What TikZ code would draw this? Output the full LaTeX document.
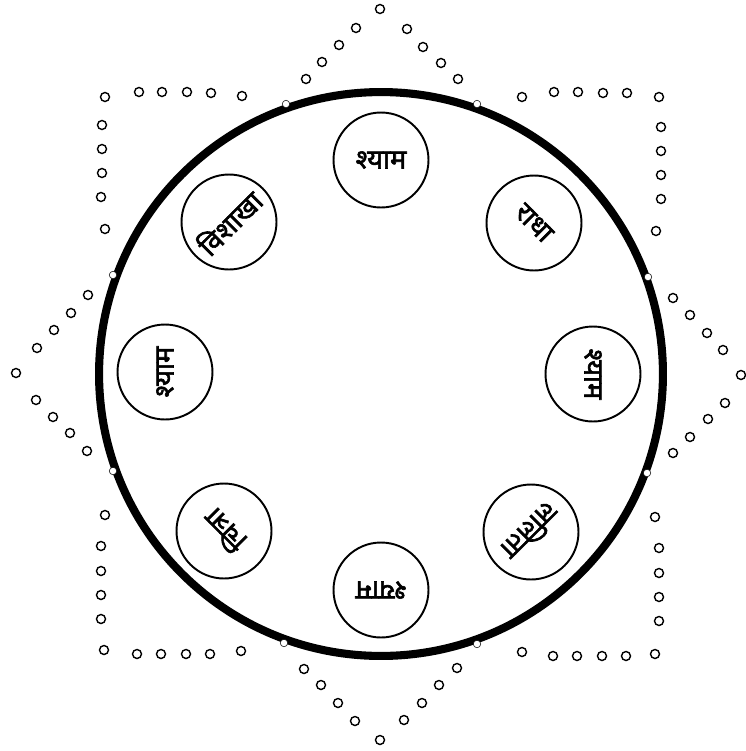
\documentclass[tikz,border=0pt]{standalone}
\usepackage{fontspec}
\usepackage{tikz}
\newfontfamily\devfont[Script=Devanagari,AutoFakeBold=2.2]{Noto Sans}
\definecolor{InkBlack}{HTML}{000000}
\tikzset{
  sakhi/.style={circle,draw=InkBlack,line width=1.1pt,minimum size=1.9cm,inner sep=0pt,
    font=\devfont\bfseries\fontsize{15.5}{17}\selectfont},
  ring/.style={draw=InkBlack,line width=0.8pt,fill=white},
  joint/.style={draw=InkBlack,line width=0.3pt,fill=white}
}

\begin{document}
\begin{tikzpicture}[x=0.02cm,y=-0.02cm]
  \useasboundingbox (0,0) rectangle (745,751);

  % Rasa circle
  \coordinate (mid) at (381,374);
  \draw[InkBlack,line width=4.6pt] (mid) circle[radius=5.64cm];

  % Joints on the rim
  \foreach \p in {(286,104),(477,104),(113,275),(648,277),
                  (113,471),(647,473),(284,643),(477,644)} {
    \draw[joint] \p circle[radius=0.075cm];
  }

  % Dotted star outline
  \foreach \p in {(380,9),(356,28),(339,45),(322,62),(306,79),
                  (407,29),(423,47),(441,63),(458,79),
                  (105,97),(139,92),(162,92),(187,92),(211,93),(242,96),
                  (102,125),(102,149),(102,173),(101,197),(105,229),
                  (88,295),(71,313),(54,330),(37,348),(16,373),
                  (36,400),(53,417),(70,433),(87,451),
                  (105,515),(101,546),(101,571),(101,595),(101,619),(104,650),
                  (137,654),(161,654),(186,654),(210,654),(241,651),
                  (304,669),(321,685),(338,703),(355,721),(380,740),
                  (457,668),(439,685),(422,703),(404,720),
                  (522,97),(554,92),(578,92),(603,93),(627,93),(659,97),
                  (661,127),(661,151),(661,175),(661,199),(656,231),
                  (673,298),(690,315),(707,333),(723,350),(741,375),
                  (725,403),(708,419),(690,437),(673,453),
                  (655,517),(659,548),(659,573),(659,597),(659,621),(655,654),
                  (626,656),(602,656),(577,656),(553,656),(522,652)} {
    \draw[ring] \p circle[radius=0.09cm];
  }

  % Sakhis and Shyam
  \node[sakhi]            (shyamN)   at (381,160) {श्याम};
  \node[sakhi,rotate=-45] (radha)    at (534,223) {राधा};
  \node[sakhi,rotate=-90] (shyamE)   at (593,374) {श्याम};
  \node[sakhi,rotate=-135](lalita)   at (531,532) {ललिता};
  \node[sakhi,rotate=180] (shyamS)   at (381,590) {श्याम};
  \node[sakhi,rotate=135] (chitra)   at (224,531) {चित्रा};
  \node[sakhi,rotate=90]  (shyamW)   at (165,372) {श्याम};
  \node[sakhi,rotate=45]  (vishakha) at (229,222) {विशाखा};
\end{tikzpicture}
\end{document}
